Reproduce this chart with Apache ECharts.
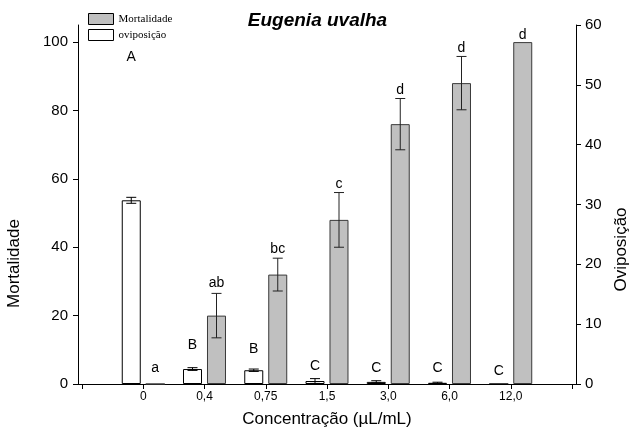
<!DOCTYPE html>
<html>
<head>
<meta charset="utf-8">
<script src="https://cdn.jsdelivr.net/npm/echarts@6/dist/echarts.min.js"></script>
<style>
  html, body { margin: 0; padding: 0; background: #fff; }
  #chart { width: 635px; height: 431px; }
</style>
</head>
<body>
<div id="chart"></div>
<script>
// Concentration groups (x axis)
const concentrations = ['0', '0,4', '0,75', '1,5', '3,0', '6,0', '12,0'];

// Mortality (%), left axis
const mortalidade = [0, 20, 32, 48, 76, 88, 100];
const mortalidadeErr = [0, 6.5, 4.8, 8, 7.5, 7.8, 0];
const mortalidadeLetters = ['a', 'ab', 'bc', 'c', 'd', 'd', 'd'];

// Oviposition, right axis
const oviposicao = [30.7, 2.5, 2.3, 0.5, 0.35, 0.2, 0];
const oviposicaoErr = [0.5, 0.23, 0.2, 0.4, 0.2, 0.1, 0];
const oviposicaoLetters = ['A', 'B', 'B', 'C', 'C', 'C', 'C'];

// Tick labels
const mortalidadeTicks = [0, 20, 40, 60, 80, 100];
const oviposicaoTicks = [0, 10, 20, 30, 40, 50, 60];

// Letter placement: pixels from the top of each error bar up to the letter centre
const mortLetterLift = [16, 10, 9, 8.5, 8, 8.7, 7];
const oviLetterLift = [140, 23, 20, 12, 13, 14, 13];

const BAR_W = 19;
const BAR_GAP = 5;
const SHIFT = (BAR_W + BAR_GAP) / 2;
const FONT = '"Liberation Sans", Arial, sans-serif';

// empty slots at both ends give the axis its outer ticks
const cats = [''].concat(concentrations, [' ']);
const pad = arr => [null].concat(arr, [null]);

function errorSeries(values, errs, letters, lifts, yAxisIndex, dir, color) {
  return {
    type: 'custom',
    xAxisIndex: 0,
    yAxisIndex: yAxisIndex,
    z: 10,
    silent: true,
    data: values.map((v, i) => [i + 1, v, errs[i], i]),
    encode: { x: 0, y: 1 },
    renderItem(params, api) {
      const idx = api.value(0);
      const v = api.value(1);
      const e = api.value(2);
      const k = api.value(3);
      const x = api.coord([idx, v])[0] + dir * SHIFT;
      const top = api.coord([idx, v + e])[1];
      const bot = api.coord([idx, v - e])[1];
      const cap = 5;
      const lineStyle = { stroke: color, lineWidth: 1 };
      const children = [];
      if (e > 0) {
        children.push({ type: 'line', shape: { x1: x, y1: top, x2: x, y2: bot }, style: lineStyle });
        children.push({ type: 'line', shape: { x1: x - cap, y1: top, x2: x + cap, y2: top }, style: lineStyle });
        children.push({ type: 'line', shape: { x1: x - cap, y1: bot, x2: x + cap, y2: bot }, style: lineStyle });
      }
      children.push({
        type: 'text',
        style: {
          text: letters[k],
          x: x,
          y: top - lifts[k],
          align: 'center',
          verticalAlign: 'middle',
          font: '14px ' + FONT,
          fill: '#000'
        }
      });
      return { type: 'group', children: children };
    }
  };
}

const chart = echarts.init(document.getElementById('chart'), null, { renderer: 'canvas' });

chart.setOption({
  animation: false,
  backgroundColor: '#fff',
  title: {
    text: 'Eugenia uvalha',
    left: 'center',
    top: 11,
    padding: 0,
    textStyle: { fontFamily: FONT, fontSize: 19, fontWeight: 'bold', fontStyle: 'italic', color: '#000' }
  },
  legend: {
    data: ['Mortalidade', 'oviposição'],
    orient: 'vertical',
    left: 88,
    top: 13,
    padding: 0,
    itemWidth: 25,
    itemHeight: 11,
    itemGap: 4,
    icon: 'rect',
    itemStyle: { borderColor: '#000', borderWidth: 1 },
    textStyle: { fontFamily: '"Liberation Serif", "Times New Roman", serif', fontSize: 11, color: '#000' }
  },
  grid: [
    { left: 82, right: 63, top: 25, bottom: 47, outerBoundsMode: 'none', containLabel: false },
    { left: 78, right: 59, top: 25, bottom: 47, outerBoundsMode: 'none', containLabel: false }
  ],
  xAxis: [
    {
      gridIndex: 0,
      type: 'category',
      data: cats,
      boundaryGap: false,
      name: 'Concentração (µL/mL)',
      nameLocation: 'middle',
      nameGap: 27,
      nameTextStyle: { fontFamily: FONT, fontSize: 17, color: '#000' },
      axisLine: { show: false },
      axisTick: { show: true, interval: 0, length: 5, lineStyle: { color: '#000' } },
      axisLabel: { interval: 0, margin: 7, fontFamily: FONT, fontSize: 12, color: '#000' },
      splitLine: { show: false }
    },
    {
      gridIndex: 1,
      type: 'value',
      min: 0,
      max: 1,
      axisLine: { show: true, lineStyle: { color: '#000', width: 1 } },
      axisTick: { show: false },
      axisLabel: { show: false },
      splitLine: { show: false }
    }
  ],
  yAxis: [
    {
      gridIndex: 0,
      type: 'value',
      position: 'left',
      offset: 4,
      min: 0,
      max: 105,
      name: 'Mortalidade',
      nameLocation: 'middle',
      nameGap: 55,
      nameTextStyle: { fontFamily: FONT, fontSize: 17, color: '#000', padding: [0, 118, 0, 0] },
      axisLine: { show: true, lineStyle: { color: '#000', width: 1 } },
      axisTick: { show: true, length: 5, customValues: mortalidadeTicks, lineStyle: { color: '#000' } },
      axisLabel: { customValues: mortalidadeTicks, margin: 10, fontFamily: FONT, fontSize: 15, color: '#000' },
      splitLine: { show: false }
    },
    {
      gridIndex: 0,
      type: 'value',
      position: 'right',
      offset: 4,
      min: 0,
      max: 60,
      interval: 10,
      name: 'Oviposição',
      nameLocation: 'middle',
      nameGap: 37,
      nameTextStyle: { fontFamily: FONT, fontSize: 17, color: '#000', padding: [0, 90, 0, 0] },
      axisLine: { show: true, lineStyle: { color: '#000', width: 1 } },
      axisTick: { show: true, length: 5, customValues: oviposicaoTicks, lineStyle: { color: '#000' } },
      axisLabel: { customValues: oviposicaoTicks, margin: 9, fontFamily: FONT, fontSize: 15, color: '#000' },
      splitLine: { show: false }
    },
    {
      gridIndex: 1,
      type: 'value',
      show: false,
      min: 0,
      max: 1
    }
  ],
  series: [
    {
      name: 'oviposição',
      type: 'bar',
      xAxisIndex: 0,
      yAxisIndex: 1,
      data: pad(oviposicao),
      barWidth: BAR_W,
      barGap: (BAR_GAP / BAR_W * 100).toFixed(1) + '%',
      itemStyle: { color: '#ffffff', borderColor: '#000', borderWidth: 1 }
    },
    {
      name: 'Mortalidade',
      type: 'bar',
      xAxisIndex: 0,
      yAxisIndex: 0,
      data: pad(mortalidade),
      barWidth: BAR_W,
      barGap: (BAR_GAP / BAR_W * 100).toFixed(1) + '%',
      itemStyle: { color: '#c0c0c0', borderColor: '#3a3a3a', borderWidth: 1 }
    },
    errorSeries(oviposicao, oviposicaoErr, oviposicaoLetters, oviLetterLift, 1, -1, '#000'),
    errorSeries(mortalidade, mortalidadeErr, mortalidadeLetters, mortLetterLift, 0, 1, '#222')
  ]
});
</script>
</body>
</html>
